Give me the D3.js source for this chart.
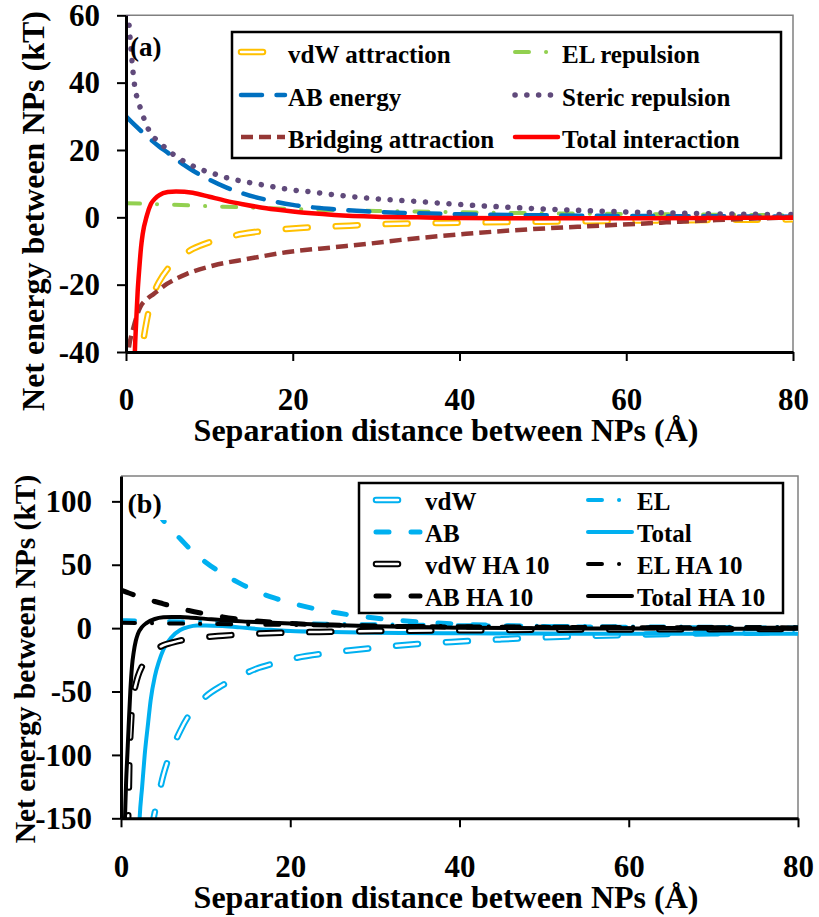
<!DOCTYPE html>
<html><head><meta charset="utf-8">
<script src="https://cdn.jsdelivr.net/npm/d3@7"></script>
<style>
body{margin:0;background:#fff;}
svg text{font-family:"Liberation Serif","Times New Roman",serif;font-weight:bold;fill:#000;}
</style></head><body>
<svg id="c" width="819" height="917"></svg>
<script>
// ---------------- DATA: panel (a) ----------------
const xTicks = [0, 20, 40, 60, 80];
const yTicksA = [-40, -20, 0, 20, 40, 60];
const yTicksB = [-150, -100, -50, 0, 50, 100];

const vdwAX = [1.5,1.8,2,2.5,3,3.5,4,5,6,7,8,10,12,14,16,18,20,25,30,35,40,50,60,70,80];
const vdwAY = [-50,-42,-38,-30.5,-25,-21.5,-19,-15.3,-12.7,-10.9,-9.4,-7.4,-6,-4.9,-4.2,-3.7,-3.3,-2.7,-2.1,-1.8,-1.6,-1.3,-1,-0.8,-0.6];
const elAX = [0,5,10,15,20,25,30,35,40,50,60,70,80];
const elAY = [4.2,3.8,3.3,2.9,2.5,2.1,1.9,1.7,1.5,1.2,1.0,0.8,0.6];
const abAX = [0,1,2,3,4,5,6,7,8,10,12,14,16,18,20,25,30,35,40,50,60,70,80];
const abAY = [30,27.5,25.2,23,21,19.2,17.3,15.5,13.9,11.2,8.9,7.1,5.7,4.6,3.7,2.4,1.6,1.2,0.9,0.6,0.4,0.3,0.2];
const stericX = [0.05,0.3,0.6,0.85,1.1,1.4,1.9,2.4,3,4,5,6,7.5,9,10,12,14,16,18,20,22,25,30,35,40,45,50,55,60,65,70,75,80];
const stericY = [64,59,50,43,38,35,31.2,27.7,24.8,22.3,20,18.1,15.9,14.2,13.4,11.8,10.7,9.8,8.9,8.1,7.6,6.7,5.5,4.7,3.8,3.1,2.5,2.0,1.6,1.3,1.05,0.9,0.8];
const bridgX = [0.1,0.3,0.9,1.7,2.5,3.3,4.9,7.3,10.5,14.5,19.2,24.9,28.9,33,40.8,48.8,56.8,64.8,70.8,80];
const bridgY = [-44,-39.6,-32.7,-26.7,-24.3,-22.8,-19.8,-16.8,-14.3,-12.4,-10.4,-8.9,-7.9,-6.7,-4.9,-3.5,-2.5,-1.5,-0.8,0];
const totAX = [1.0,1.05,1.2,1.4,1.6,1.8,2,2.5,3,3.5,4,5,6,7,8,10,12,14,16,18,20,25,30,35,40,50,60,70,80];
const totAY = [-46,-41,-32,-22,-15,-9,-5,0.5,4,5.6,6.6,7.5,7.7,7.6,7.3,6.1,4.9,3.9,3.0,2.3,1.7,0.7,0.2,0,-0.2,-0.3,-0.3,-0.2,-0.1];
const namesA = ["vdW attraction","EL repulsion","AB energy","Steric repulsion","Bridging attraction","Total interaction"];

// ---------------- DATA: panel (b) ----------------
const vdwBX = [3.6,3.8,4,4.5,5,5.5,6,7,8,9,10,12,14,16,18,20,25,30,35,40,45,50,55,60,70,80];
const vdwBY = [-162,-152,-145,-130,-116,-105,-96,-81,-69,-61,-54,-45,-38,-32,-28,-24.5,-19.2,-15.5,-12.5,-10.5,-8.8,-7.3,-6.2,-5.3,-4,-3];
const elBX = [0,5,10,15,20,25,30,40,50,60,70,80];
const elBY = [6.3,5.6,5,4.4,3.9,3.4,3,2.3,1.8,1.4,1.1,0.8];
const abBX = [0,1,2,3,4,5,6,7,8,10,12,14,16,18,20,25,30,35,40,45,50,60,70,80];
const abBY = [140,127,115,104,94,85,77,70.5,63.5,52,43,35.5,29,24,20,12.6,8,5,3.2,2,1.3,0.6,0.3,0.1];
const totBX = [2.1,2.2,2.5,2.8,3.2,3.5,4,4.5,5,6,7,8,9,10,12,14,16,18,20,25,30,33,40,50,60,70,80];
const totBY = [-165,-150,-125,-100,-75,-57,-38,-26,-17,-7,-1.5,1,2,2.1,1.6,0.6,-0.6,-1.5,-2.3,-3.0,-3.6,-3.9,-4.1,-4.3,-4.4,-4.4,-4.4];
const vdwHX = [0.8,0.85,0.95,1.0,1.1,1.3,1.5,1.75,2,2.5,3,4,5,6,8,10,12,15,20,25,30,40,50,60,70,80];
const vdwHY = [-165,-150,-120,-100,-85,-62,-52,-44,-38,-30,-25,-17.5,-13.5,-11.5,-8.5,-7,-6,-4.7,-3.5,-2.8,-2.3,-1.7,-1.3,-1,-0.8,-0.6];
const elHX = [0,5,10,15,20,25,30,35,40,50,60,70,80];
const elHY = [4.2,3.8,3.3,2.9,2.5,2.1,1.9,1.7,1.5,1.2,1.0,0.8,0.6];
const abHX = [0,1,2,3,4,5,6,7,8,10,12,14,16,18,20,25,30,35,40,50,60,70,80];
const abHY = [30,27.5,25.2,23,21,19.2,17.3,15.5,13.9,11.2,8.9,7.1,5.7,4.6,3.7,2.4,1.6,1.2,0.9,0.6,0.4,0.3,0.2];
const totHX = [0.4,0.47,0.6,0.75,0.9,1.1,1.3,1.5,1.75,2,2.5,3,4,5,6,7,8,10,12,15,20,25,30,40,50,60,70,80];
const totHY = [-165,-150,-122,-100,-78,-50,-30,-19,-10,-4.5,1,4,7.2,8.5,8.8,8.7,8.4,7.3,6.2,5.1,3.6,2.4,1.5,0.4,-0.1,-0.3,-0.4,-0.5];
const namesB = ["vdW","EL","AB","Total","vdW HA 10","EL HA 10","AB HA 10","Total HA 10"];

// ---------------- STYLES ----------------
const ORANGE="#FFC000", GREEN="#92D050", BLUE="#0070C0", PURPLE="#604A7B", BROWN="#953735", RED="#FF0000", LBLUE="#00B0F0", BLACK="#000000";
const ST = {
  hollow: (c)=>({kind:"hollow", color:c, w:6.5, inner:2.5, dash:"22,28", cap:"round"}),
  dashdot: (c)=>({color:c, w:4, dash:"14,17,0.1,17", cap:"round"}),
  longA: (c)=>({color:c, w:4.5, dash:"21,14.5", cap:"round"}),
  longB: (c)=>({color:c, w:5, dash:"13,22", cap:"round"}),
  dots: (c)=>({color:c, w:5.5, dash:"0.1,11.7", cap:"round"}),
  dashed: (c)=>({color:c, w:4.5, dash:"12,6", cap:"butt"}),
  solidA: (c)=>({color:c, w:4.5, dash:null, cap:"round"}),
  solidB: (c)=>({color:c, w:4, dash:null, cap:"round"})
};

const zip = (xs, ys) => xs.map((x,i)=>[x, ys[i]]);

const seriesA = [
  {name:namesA[0], data:zip(vdwAX,vdwAY), st:ST.hollow(ORANGE)},
  {name:namesA[1], data:zip(elAX,elAY), st:ST.dashdot(GREEN)},
  {name:namesA[2], data:zip(abAX,abAY), st:ST.longA(BLUE)},
  {name:namesA[3], data:zip(stericX,stericY), st:ST.dots(PURPLE)},
  {name:namesA[4], data:zip(bridgX,bridgY), st:ST.dashed(BROWN)},
  {name:namesA[5], data:zip(totAX,totAY), st:ST.solidA(RED)}
];
const seriesB = [
  {name:namesB[0], data:zip(vdwBX,vdwBY), st:ST.hollow(LBLUE)},
  {name:namesB[1], data:zip(elBX,elBY), st:ST.dashdot(LBLUE)},
  {name:namesB[2], data:zip(abBX,abBY), st:ST.longB(LBLUE)},
  {name:namesB[3], data:zip(totBX,totBY), st:ST.solidB(LBLUE)},
  {name:namesB[4], data:zip(vdwHX,vdwHY), st:ST.hollow(BLACK)},
  {name:namesB[5], data:zip(elHX,elHY), st:ST.dashdot(BLACK)},
  {name:namesB[6], data:zip(abHX,abHY), st:ST.longB(BLACK)},
  {name:namesB[7], data:zip(totHX,totHY), st:ST.solidB(BLACK)}
];

const svg = d3.select("#c");

function strokePath(make, st){
  if (st.kind === "hollow"){
    make().attr("fill","none").attr("stroke",st.color).attr("stroke-width",st.w)
      .attr("stroke-dasharray",st.dash).attr("stroke-linecap",st.cap).attr("stroke-linejoin","round");
    make().attr("fill","none").attr("stroke","#fff").attr("stroke-width",st.inner)
      .attr("stroke-dasharray",st.dash).attr("stroke-linecap",st.cap).attr("stroke-linejoin","round");
  } else {
    const p = make().attr("fill","none").attr("stroke",st.color).attr("stroke-width",st.w)
      .attr("stroke-linecap",st.cap).attr("stroke-linejoin","round");
    if (st.dash) p.attr("stroke-dasharray",st.dash);
  }
}

function panel(cfg){
  const g = svg.append("g");
  const x = d3.scaleLinear().domain([0,80]).range([cfg.x0,cfg.x1]);
  const y = d3.scaleLinear().domain(cfg.yDom).range([cfg.yBot,cfg.yTop]);
  const cid = "clip"+cfg.id;
  g.append("clipPath").attr("id",cid).append("rect")
    .attr("x",cfg.x0).attr("y",cfg.yTop).attr("width",cfg.x1-cfg.x0).attr("height",cfg.yBot-cfg.yTop);

  g.append("path").attr("d",`M${cfg.x0},${cfg.yTop}H${cfg.x1}V${cfg.yBot}`)
    .attr("fill","none").attr("stroke","#808080").attr("stroke-width",1.5);

  const line = d3.line().x(d=>x(d[0])).y(d=>y(d[1])).curve(d3.curveMonotoneX);
  const plot = g.append("g").attr("clip-path",`url(#${cid})`);

  cfg.series.forEach(s=>{
    const sg = plot.append("g");
    strokePath(()=>sg.append("path").attr("d",line(s.data)), s.st);
  });

  // panel letter text box (white fill, as in the reference)
  if (cfg.labelBox){
    plot.append("rect").attr("x",cfg.labelBox[0]).attr("y",cfg.labelBox[1])
      .attr("width",cfg.labelBox[2]).attr("height",cfg.labelBox[3]).attr("fill","#fff");
  }

  const yAxis = d3.axisLeft(y).tickValues(cfg.yTicks).tickSize(9).tickSizeOuter(0)
    .tickPadding(cfg.yPad).tickFormat(d=>String(d));
  const ya = g.append("g").attr("transform",`translate(${cfg.x0},0)`).call(yAxis);
  const xAxis = d3.axisBottom(x).tickValues(xTicks).tickSize(9).tickSizeOuter(0)
    .tickPadding(cfg.xPad).tickFormat(d=>String(d));
  const xa = g.append("g").attr("transform",`translate(0,${cfg.yBot})`).call(xAxis);
  [ya,xa].forEach(a=>{
    a.attr("font-family",null).attr("font-size",null);
    a.select(".domain").attr("stroke","#000").attr("stroke-width",3);
    a.selectAll(".tick line").attr("stroke","#000").attr("stroke-width",2);
    a.selectAll(".tick text").style("font-size",cfg.tickFont+"px").attr("fill","#000");
  });
  ya.selectAll(".tick text").attr("dy","0.33em");

  g.append("text").attr("x",cfg.label[0]).attr("y",cfg.label[1]).style("font-size",cfg.label[2]+"px").text(cfg.labelText);

  g.append("text").attr("text-anchor","middle").attr("x",446).attr("y",cfg.xTitleY)
    .style("font-size","32px").text("Separation distance between NPs (Å)");
  g.append("text").attr("text-anchor","middle")
    .attr("transform",`translate(${cfg.yTitleX},${cfg.yTitleCY}) rotate(-90)`)
    .style("font-size",cfg.yTitleFont+"px").text("Net energy between NPs (kT)");

  const L = cfg.legend;
  const lg = g.append("g");
  lg.append("rect").attr("x",L.x).attr("y",L.y).attr("width",L.w).attr("height",L.h)
    .attr("fill","#fff").attr("stroke","#000").attr("stroke-width",2.5);
  cfg.series.forEach((s,i)=>{
    const col = i % 2, row = Math.floor(i/2);
    const sx0 = L.cols[col][0], sx1 = L.cols[col][1], tx = L.cols[col][2];
    const sy = L.rows[row];
    strokePath(()=>lg.append("path").attr("d",`M${sx0},${sy}H${sx1}`), s.st);
    lg.append("text").attr("x",tx).attr("y",sy+L.base).style("font-size",L.font+"px").text(s.name);
  });
}

panel({
  id:"A", x0:126, x1:793, yTop:15.3, yBot:352, yDom:[-40,60], yTicks:yTicksA,
  series:seriesA, yPad:17, xPad:27, tickFont:31,
  label:[130,56,27], labelText:"(a)", labelBox:null,
  xTitleY:441, yTitleX:44, yTitleCY:211, yTitleFont:32,
  legend:{x:232,y:32,w:549,h:126, cols:[[241,285,288],[515,558,562]], rows:[52,95,137], base:10.5, font:25}
});
panel({
  id:"B", x0:121, x1:798, yTop:476, yBot:818.3, yDom:[-150,120], yTicks:yTicksB,
  series:seriesB, yPad:20, xPad:27.5, tickFont:31,
  label:[127.5,513,28], labelText:"(b)", labelBox:[122,477,44,43],
  xTitleY:908, yTitleX:35, yTitleCY:659, yTitleFont:29.5,
  legend:{x:359,y:483,w:424,h:130, cols:[[376,420,425],[588,632,637]], rows:[500,532,564,596], base:9.5, font:25}
});
</script>
</body></html>
